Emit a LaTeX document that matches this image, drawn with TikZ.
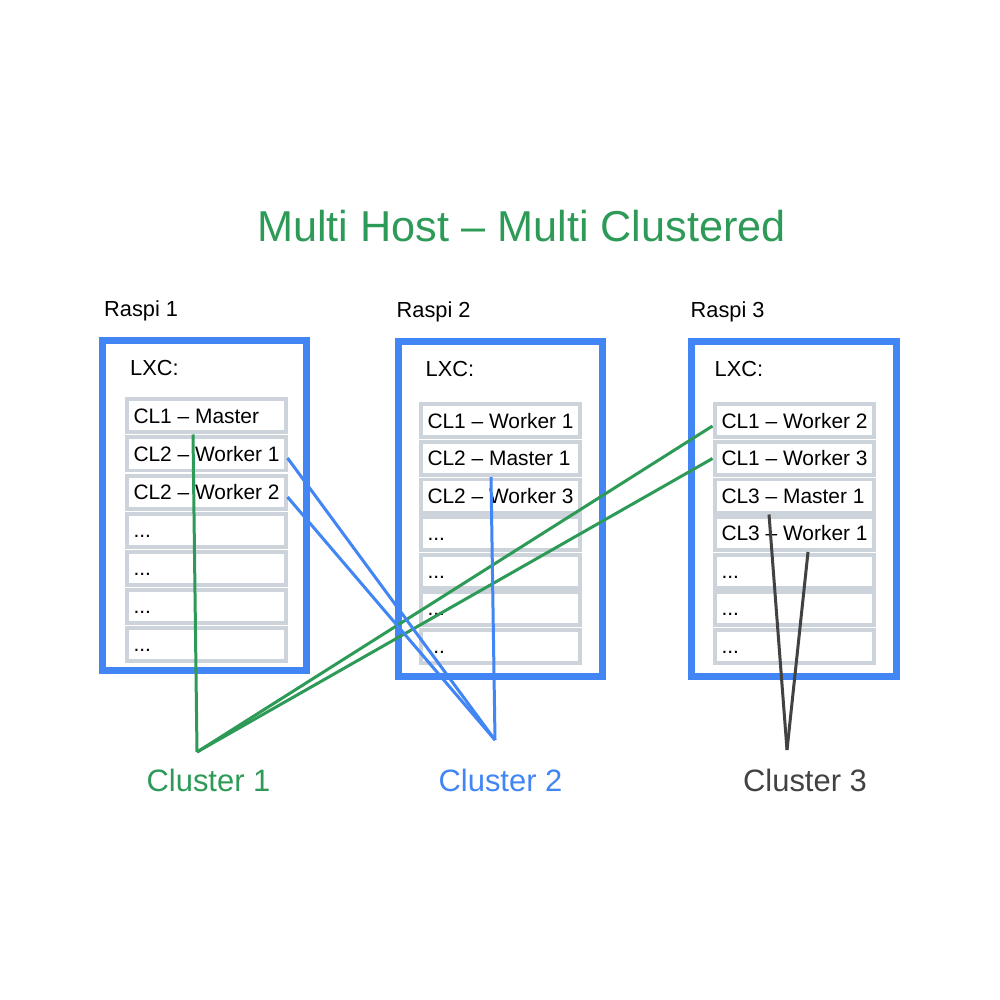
\documentclass[tikz,border=0pt]{standalone}
\usepackage{fontspec}
\setmainfont{Liberation Sans}
\usetikzlibrary{positioning}

\definecolor{hostblue}{HTML}{4285F4}
\definecolor{clgreen}{HTML}{2D9B57}
\definecolor{cldark}{HTML}{424242}
\definecolor{rowgray}{HTML}{CCD3DB}
\newcommand{\rowtext}[1]{\makebox[1.45cm][l]{\vphantom{CL}#1}}
\newcommand{\rowdots}{...}

\begin{document}
\begin{tikzpicture}[
    host/.style={draw=hostblue, line width=0.07cm, minimum width=2.04cm, inner sep=0pt},
    lxcrow/.style={draw=rowgray, line width=0.04cm, minimum width=1.57cm,
                   minimum height=0.33cm, inner xsep=0.07cm, inner ysep=0pt,
                   font=\fontsize{5.95}{7}\selectfont},
    hostlabel/.style={font=\fontsize{6.2}{7.5}\selectfont, inner sep=0pt},
    clusterlabel/.style={font=\fontsize{8.8}{10}\selectfont, inner sep=0pt},
    link/.style={line width=0.03cm}
]
\fill[white] (0,0) rectangle (10,-10);

% title
\node[font=\fontsize{12.3}{14}\selectfont, text=clgreen] (title) at (5.215,-2.26) {Multi Host -- Multi Clustered};

% hosts
\node[host, minimum height=3.29cm] (h1) at (2.045,-5.055) {};
\node[host, minimum height=3.34cm] (h2) at (5.00,-5.09) {};
\node[host, minimum height=3.34cm, minimum width=2.05cm] (h3) at (7.935,-5.09) {};

\node[hostlabel, above right=0.16cm and 0.045cm of h1.north west] (r1) {Raspi 1};
\node[hostlabel, above right=0.16cm and 0.015cm of h2.north west] (r2) {Raspi 2};
\node[hostlabel, above right=0.16cm and 0.025cm of h3.north west] (r3) {Raspi 3};

\node[hostlabel, below right=0.225cm and 0.305cm of h1.north west] (x1) {LXC:};
\node[hostlabel, below right=0.225cm and 0.305cm of h2.north west] (x2) {LXC:};
\node[hostlabel, below right=0.225cm and 0.265cm of h3.north west] (x3) {LXC:};

% containers
\foreach \txt [count=\i] in {CL1 -- Master, CL2 -- Worker 1, CL2 -- Worker 2, \rowdots, \rowdots, \rowdots, \rowdots}
  \node[lxcrow] (a\i) at (2.06,{-4.16-(\i-1)*0.38}) {\rowtext{\txt}};
\foreach \txt [count=\i] in {CL1 -- Worker 1, CL2 -- Master 1, CL2 -- Worker 3, \rowdots, \rowdots, \rowdots, \rowdots}
  \node[lxcrow] (b\i) at (5.00,{-4.21-(\i-1)*0.375}) {\rowtext{\txt}};
\foreach \txt [count=\i] in {CL1 -- Worker 2, CL1 -- Worker 3, CL3 -- Master 1, CL3 -- Worker 1, \rowdots, \rowdots, \rowdots}
  \node[lxcrow] (c\i) at (7.94,{-4.21-(\i-1)*0.375}) {\rowtext{\txt}};

% clusters
\node[clusterlabel, text=clgreen] (cl1) at (2.085,-7.80) {Cluster 1};
\node[clusterlabel, text=hostblue] (cl2) at (5.005,-7.80) {Cluster 2};
\node[clusterlabel, text=cldark] (cl3) at (8.05,-7.80) {Cluster 3};

\coordinate (apexone) at (1.97,-7.52);
\coordinate (apextwo) at (4.95,-7.40);
\coordinate (apexthree) at (7.87,-7.50);

\draw[link, clgreen] ([xshift=-0.13cm]a1.south) -- (apexone);
\draw[link, clgreen] ([yshift=-0.05cm]c1.west) -- (apexone);
\draw[link, clgreen] (c2.west) -- (apexone);

\draw[link, hostblue] ([yshift=-0.04cm]a2.east) -- (apextwo);
\draw[link, hostblue] ([yshift=-0.05cm]a3.east) -- (apextwo);
\draw[link, hostblue] ([xshift=-0.09cm]b2.south) -- (apextwo);

\draw[link, cldark] ([xshift=-0.25cm]c3.south) -- (apexthree);
\draw[link, cldark] ([xshift=0.14cm]c4.south) -- (apexthree);
\end{tikzpicture}
\end{document}
